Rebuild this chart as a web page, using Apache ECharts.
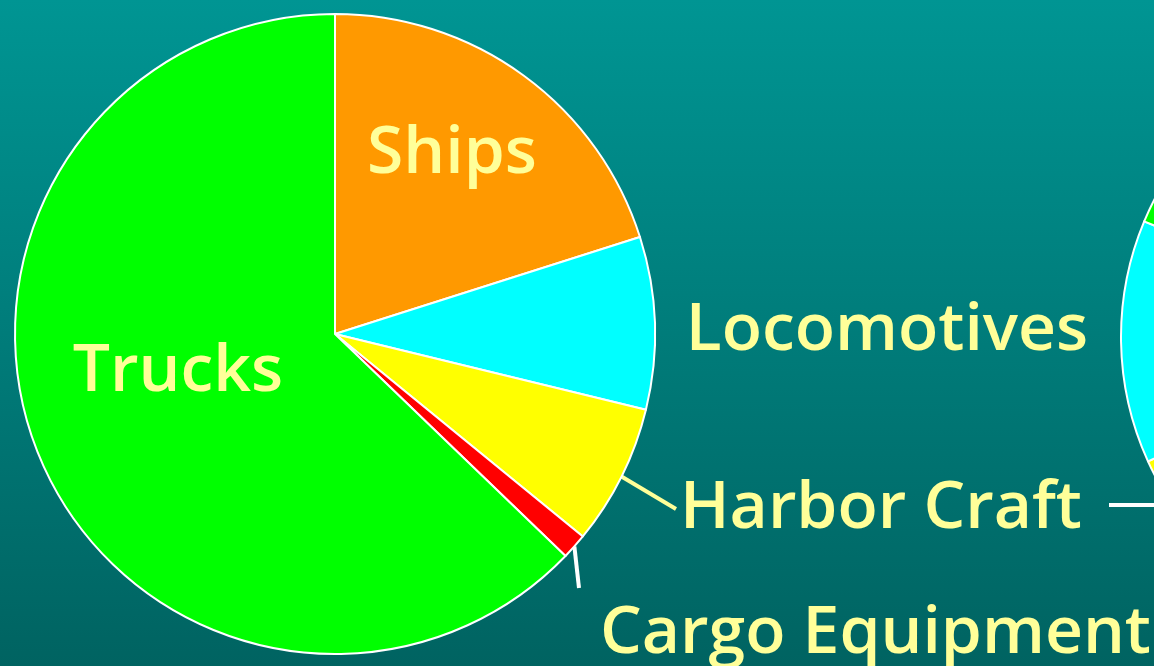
<!DOCTYPE html>
<html><head><meta charset="utf-8">
<script src="https://cdn.jsdelivr.net/npm/echarts@6/dist/echarts.min.js"></script>
<style>html,body{margin:0;padding:0;background:#008080}#c{width:1154px;height:666px}</style>
</head><body><div id="c"></div>
<script>
// Main pie (left)
const categories = ['Ships', 'Locomotives', 'Harbor Craft', 'Cargo Equipment', 'Trucks'];
const shares = [20.1, 8.7, 7.1, 1.3, 62.8];
// Second pie (right, mostly off-slide)
const categories2 = ['Ships', 'Harbor Craft', 'Locomotives', 'Trucks'];
const shares2 = [50.0, 18.2, 13.1, 18.7];

const sliceColors = {
  'Ships': '#FF9900', 'Locomotives': '#00FFFF', 'Harbor Craft': '#FFFF00',
  'Cargo Equipment': '#FF0000', 'Trucks': '#00FF00'
};
const labelColor = '#FFFF99';
const font = '"Open Sans", Lato, sans-serif';

// label placement (text layout only)
const labelPlace = {
  'Ships': {x: 452, y: 154, align: 'center', verticalAlign: 'middle'},
  'Trucks': {x: 178, y: 372, align: 'center', verticalAlign: 'middle'},
  'Locomotives': {x: 887, y: 331, align: 'center', verticalAlign: 'middle'},
  'Harbor Craft': {x: 676, y: 509, align: 'left', verticalAlign: 'middle'},
  'Cargo Equipment': {x: 579, y: 508, align: 'left', verticalAlign: 'top'}
};
const labelExtra = {
  'Harbor Craft': {padding: [0, 0, 0, 4], line: labelColor},
  'Cargo Equipment': {padding: [92, 0, 0, 21], line: '#FFFFFF'}
};

const data1 = categories.map((name, i) => {
  const ex = labelExtra[name];
  return {
    name, value: shares[i],
    itemStyle: {color: sliceColors[name]},
    label: ex ? {padding: ex.padding, backgroundColor: 'rgba(0,0,0,0)'} : {},
    labelLine: ex ? {show: true, length: 10, length2: 0, lineStyle: {color: ex.line, width: 4}} : {show: false}
  };
});
const data2 = categories2.map((name, i) => {
  const isH = name === 'Harbor Craft';
  return {
    name, value: shares2[i],
    itemStyle: {color: sliceColors[name]},
    label: {show: isH, formatter: ' ', fontSize: 8},
    labelLine: {show: isH, length: 10, length2: 60, lineStyle: {color: '#FFFFFF', width: 4}}
  };
});

const chart = echarts.init(document.getElementById('c'), null, {renderer: 'canvas'});
chart.setOption({
  animation: false,
  backgroundColor: {
    type: 'linear', x: 0, y: 0, x2: 0, y2: 1,
    colorStops: [{offset: 0, color: '#009593'}, {offset: 1, color: '#006361'}]
  },
  series: [
    {
      type: 'pie', center: [335, 334], radius: 320, startAngle: 90, clockwise: true,
      avoidLabelOverlap: false, silent: true,
      itemStyle: {borderColor: '#FFFFFF', borderWidth: 2},
      emphasis: {disabled: true},
      label: {show: true, position: 'outside', formatter: '{b}', color: labelColor,
              fontFamily: font, fontWeight: 600, fontSize: 66, lineHeight: 68},
      labelLayout: (p) => labelPlace[categories[p.dataIndex]],
      data: data1
    },
    {
      type: 'pie', center: [1421, 337], radius: 300, startAngle: 90, clockwise: true,
      avoidLabelOverlap: false, silent: true,
      itemStyle: {borderColor: '#FFFFFF', borderWidth: 2},
      emphasis: {disabled: true},
      label: {position: 'outside', color: labelColor},
      labelLayout: (p) => categories2[p.dataIndex] === 'Harbor Craft'
        ? {x: 1109, y: 505, align: 'right', verticalAlign: 'middle'} : {},
      data: data2
    }
  ]
});
</script></body></html>
